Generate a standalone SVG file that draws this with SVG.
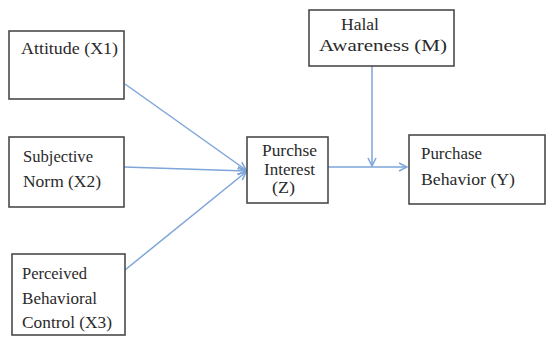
<svg xmlns="http://www.w3.org/2000/svg" width="548" height="337" viewBox="0 0 548 337">
<style>
.box{fill:#fff;stroke:#4a4a4a;stroke-width:1.6}
.t{font-family:"Liberation Serif","Times New Roman",serif;font-size:17px;fill:#2a2a2a}
.c{stroke:#7da5d8;stroke-width:1.5;fill:none}
</style>
<defs>
<marker id="arr" markerUnits="userSpaceOnUse" markerWidth="10" markerHeight="10" refX="9" refY="5" orient="auto">
<path d="M1,1 L9,5 L1,9" fill="none" stroke="#7da5d8" stroke-width="1.5"/>
</marker>
</defs>
<rect width="548" height="337" fill="#fff"/>
<g id="connectors">
<line class="c" x1="125" y1="84" x2="246" y2="170" marker-end="url(#arr)"/>
<line class="c" x1="124" y1="167" x2="246" y2="171" marker-end="url(#arr)"/>
<line class="c" x1="125" y1="270" x2="246" y2="172" marker-end="url(#arr)"/>
<line class="c" x1="328" y1="167" x2="407" y2="167" marker-end="url(#arr)"/>
<line class="c" x1="372" y1="66" x2="372" y2="166" marker-end="url(#arr)"/>
</g>
<g id="attitude">
<rect class="box" x="9" y="31" width="115" height="68"/>
<text class="t" x="21" y="54" textLength="97" lengthAdjust="spacingAndGlyphs">Attitude (X1)</text>
</g>
<g id="subjective">
<rect class="box" x="9" y="137" width="115" height="70"/>
<text class="t" x="23" y="162" textLength="70" lengthAdjust="spacingAndGlyphs">Subjective</text>
<text class="t" x="23" y="187" textLength="78" lengthAdjust="spacingAndGlyphs">Norm (X2)</text>
</g>
<g id="perceived">
<rect class="box" x="12" y="254" width="113" height="81"/>
<text class="t" x="22" y="279" textLength="65" lengthAdjust="spacingAndGlyphs">Perceived</text>
<text class="t" x="22" y="304" textLength="75" lengthAdjust="spacingAndGlyphs">Behavioral</text>
<text class="t" x="22" y="328" textLength="90" lengthAdjust="spacingAndGlyphs">Control (X3)</text>
</g>
<g id="interest">
<rect class="box" x="247" y="137" width="81" height="66"/>
<text class="t" x="262" y="156" textLength="55" lengthAdjust="spacingAndGlyphs">Purchse</text>
<text class="t" x="264" y="175" textLength="51" lengthAdjust="spacingAndGlyphs">Interest</text>
<text class="t" x="272" y="193" textLength="23" lengthAdjust="spacingAndGlyphs">(Z)</text>
</g>
<g id="halal">
<rect class="box" x="309" y="10" width="145" height="56"/>
<text class="t" x="341" y="30" textLength="38" lengthAdjust="spacingAndGlyphs">Halal</text>
<text class="t" x="319" y="51" textLength="128" lengthAdjust="spacingAndGlyphs">Awareness (M)</text>
</g>
<g id="behavior">
<rect class="box" x="409" y="135" width="136" height="69"/>
<text class="t" x="421" y="159" textLength="61" lengthAdjust="spacingAndGlyphs">Purchase</text>
<text class="t" x="421" y="185" textLength="94" lengthAdjust="spacingAndGlyphs">Behavior (Y)</text>
</g>
</svg>
